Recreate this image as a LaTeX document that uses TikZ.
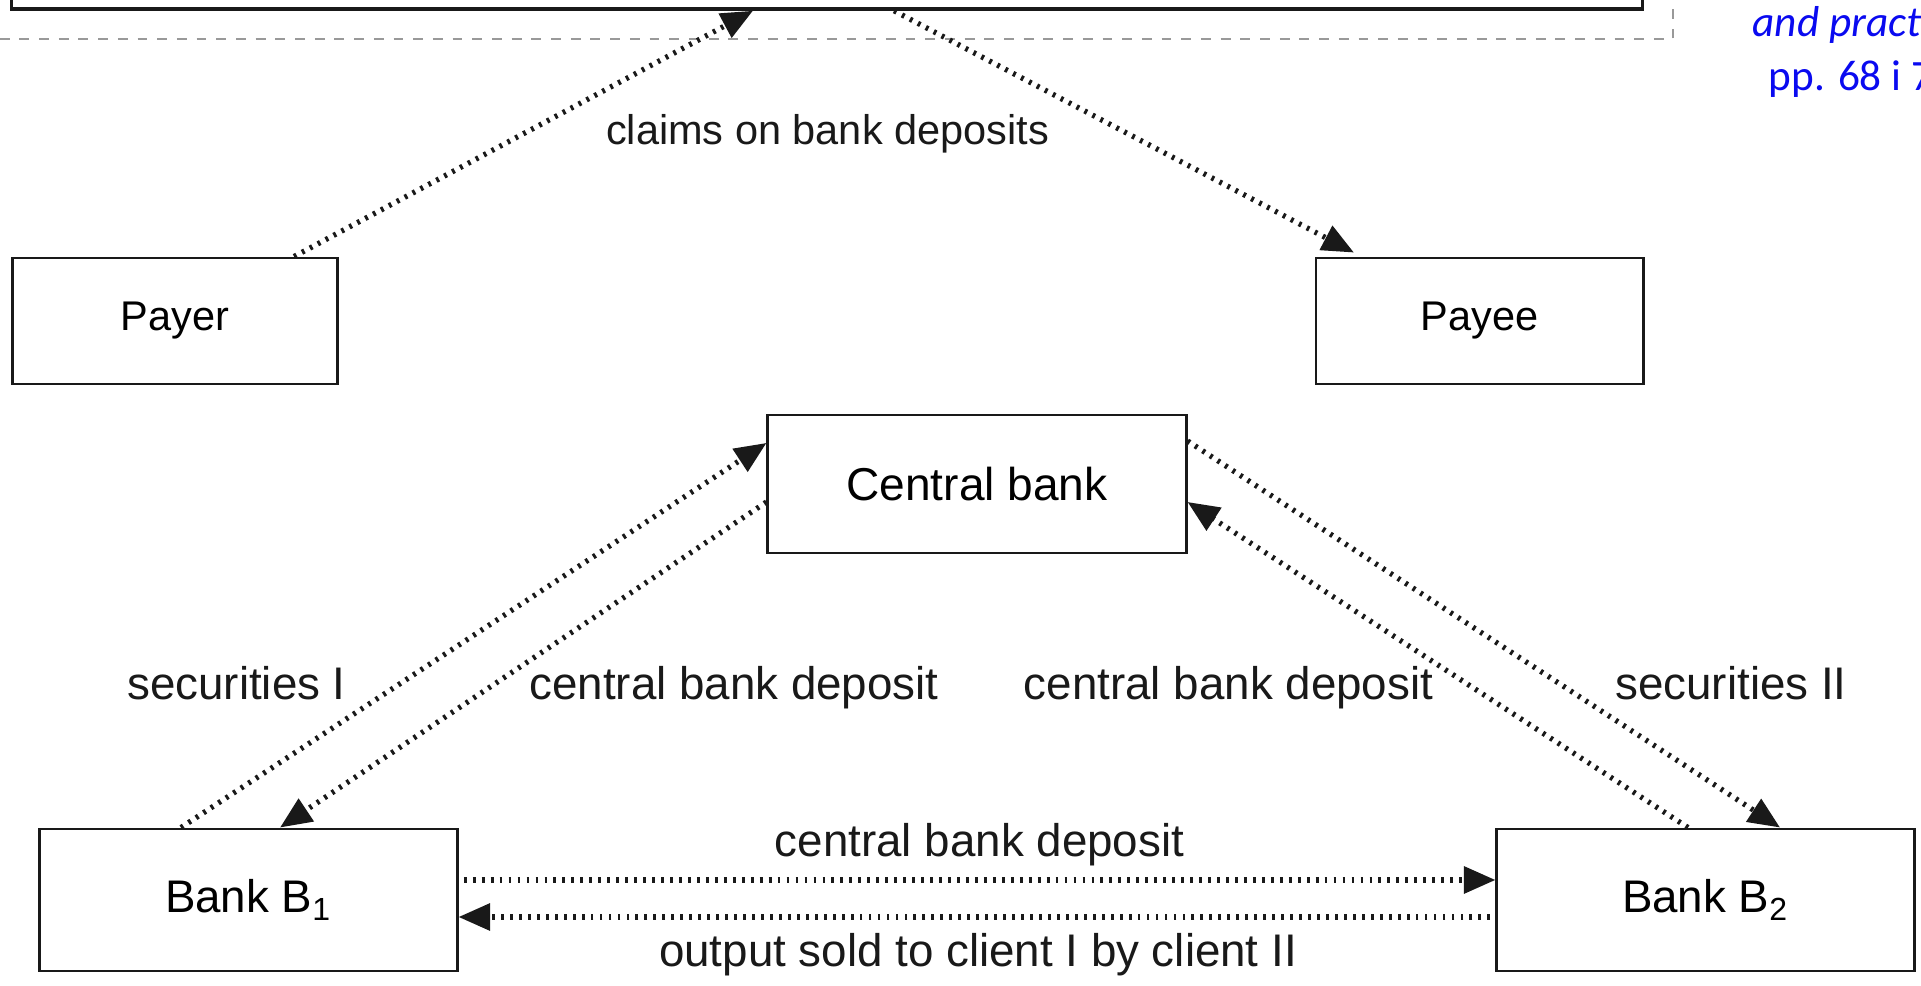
\documentclass[tikz,border=0pt]{standalone}
\usepackage{fontspec}
\setmainfont{Liberation Sans}
\newfontfamily\carlitofont{Carlito}
\usetikzlibrary{arrows.meta}
\begin{document}
\begin{tikzpicture}[x=0.01cm,y=-0.01cm,
  boxnode/.style={draw=black!90,line width=0.8pt,rectangle,inner sep=0pt,fill=white},
  smallfont/.style={font=\fontsize{11.8pt}{14pt}\selectfont},
  bigfont/.style={font=\fontsize{13pt}{15pt}\selectfont},
  labnode/.style={inner sep=0pt,anchor=base,text=black!90},
  dotarrow/.style={line width=1.5pt,dash pattern=on 0.8pt off 1.75pt,black!90,
    -{Triangle[length=9pt,width=7.5pt]}},
  bluetext/.style={inner sep=0pt,anchor=base west,text={rgb,255:red,10;green,10;blue,240}}
]
\useasboundingbox (0,0) rectangle (1921,986);
\clip (0,0) rectangle (1921,986);
\fill[white] (0,0) rectangle (1921,986);

% dashed gray frame
\draw[gray!80,line width=0.6pt,dash pattern=on 2.8pt off 2.8pt] (-20,39) -- (1673,39) -- (1673,-20);

% top box (mostly outside the picture)
\node[boxnode,line width=1pt,minimum width=16.3cm,minimum height=1.18cm] (topbox) at (827,-50) {};

% main boxes
\node[boxnode,smallfont,minimum width=3.24cm,minimum height=1.26cm] (payer) at (175,321) {Payer};
\node[boxnode,smallfont,minimum width=3.27cm,minimum height=1.26cm] (payee) at (1479.5,321) {Payee};
\node[boxnode,font=\fontsize{13.1pt}{15pt}\selectfont,minimum width=4.18cm,minimum height=1.38cm] (cb) at (977,484) {Central bank};
\node[boxnode,bigfont,minimum width=4.17cm,minimum height=1.42cm] (b1) at (248.5,900) {Bank B\textsubscript{1}};
\node[boxnode,bigfont,minimum width=4.17cm,minimum height=1.42cm] (b2) at (1705.5,900) {Bank B\textsubscript{2}};

% connectors
\draw[dotarrow] ([xshift=1.19cm]payer.north) -- ([xshift=-0.74cm]topbox.south);
\draw[dotarrow] ([xshift=0.67cm]topbox.south) -- ([xshift=-1.255cm,yshift=0.04cm]payee.north);
\draw[dotarrow] ([xshift=-0.675cm]b1.north) -- ([yshift=0.41cm]cb.west);
\draw[dotarrow] ([yshift=-0.18cm]cb.west) -- ([xshift=0.315cm]b1.north);
\draw[dotarrow] ([xshift=-0.175cm]b2.north) -- ([yshift=-0.18cm]cb.east);
\draw[dotarrow] ([yshift=0.43cm]cb.east) -- ([xshift=0.745cm]b2.north);
\draw[dotarrow,shorten <=1.5pt] ([yshift=0.2cm]b1.east) -- ([yshift=0.2cm]b2.west);
\draw[dotarrow,shorten <=1.5pt] ([yshift=-0.17cm]b2.west) -- ([yshift=-0.17cm]b1.east);

% labels
\node[labnode,smallfont] (lclaims) at (827.5,145) {claims on bank deposits};
\node[labnode,bigfont] (lsecI) at (236.5,700) {securities I};
\node[labnode,bigfont] (lcbdL) at (734,700) {central bank deposit};
\node[labnode,bigfont] (lcbdR) at (1228.5,700) {central bank deposit};
\node[labnode,bigfont] (lsecII) at (1731,700) {securities II};
\node[labnode,bigfont] (lcbdB) at (979.5,857) {central bank deposit};
\node[labnode,bigfont] (lout) at (978,967) {output sold to client I by client II};

% blue reference text (cut at the right edge, as in the original)
\node[bluetext,font=\carlitofont\itshape\fontsize{12.3pt}{15pt}\selectfont] (bt1) at (1752,37) {and practice};
\node[bluetext,font=\carlitofont\fontsize{12.3pt}{15pt}\selectfont] (bt2) at (1768,91) {pp. 68 i 74};
\end{tikzpicture}
\end{document}
